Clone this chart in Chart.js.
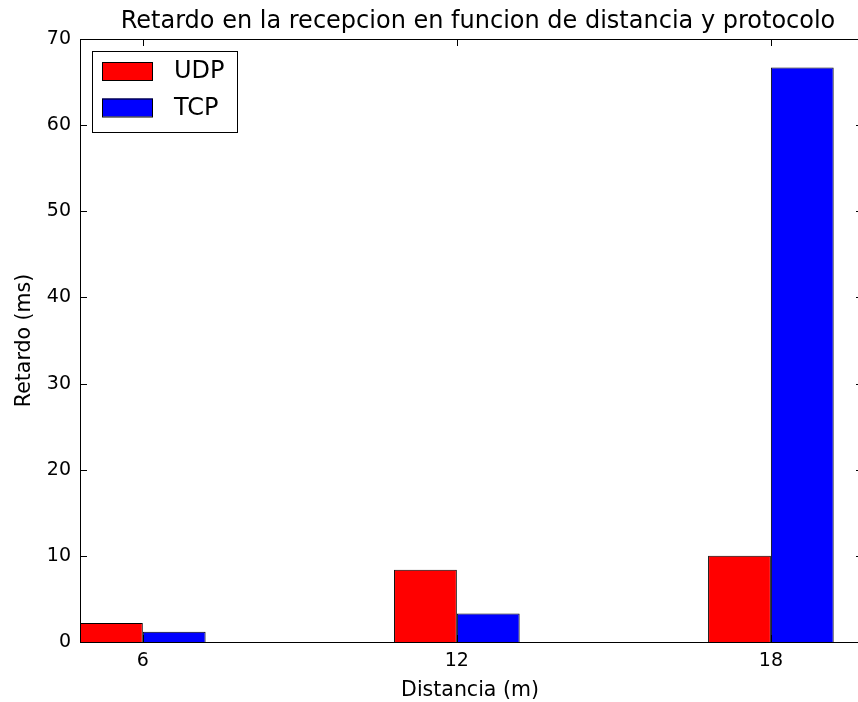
<!DOCTYPE html>
<html>
<head>
<meta charset="utf-8">
<style>
html,body{margin:0;padding:0;background:#fff;overflow:hidden;}
#wrap{width:858px;height:702px;overflow:hidden;position:relative;}
canvas{display:block;}
</style>
<script src="https://cdn.jsdelivr.net/npm/chart.js@4"></script>
</head>
<body>
<div id="wrap"><canvas id="c" width="868" height="702" style="width:868px;height:702px"></canvas></div>
<script>
const distances = [6, 12, 18];
const udpValues = [2.2, 8.4, 10.0];
const tcpValues = [1.2, 3.3, 66.7];
const yTicks = [0, 10, 20, 30, 40, 50, 60, 70];
const titleText = 'Retardo en la recepcion en funcion de distancia y protocolo';
const xLabel = 'Distancia (m)';
const yLabel = 'Retardo (ms)';
const seriesNames = ['UDP', 'TCP'];
const seriesColors = ['#ff0000', '#0000ff'];

const FONT = 'DejaVu Sans';

const decor = {
  id: 'decor',
  afterDatasetsDraw(chart) {
    const {ctx, chartArea: a, scales} = chart;
    ctx.save();
    ctx.strokeStyle = '#000';
    ctx.lineWidth = 1;
    ctx.strokeRect(Math.round(a.left) + 0.5, Math.round(a.top) + 0.5, Math.round(a.right - a.left), Math.round(a.bottom - a.top));
    const TL = 7;
    ctx.beginPath();
    scales.y.ticks.forEach(t => {
      const py = Math.round(scales.y.getPixelForValue(t.value)) + 0.5;
      ctx.moveTo(a.left, py); ctx.lineTo(a.left + TL, py);
      ctx.moveTo(a.right, py); ctx.lineTo(a.right - TL, py);
    });
    scales.x.ticks.forEach(t => {
      const px = Math.round(scales.x.getPixelForValue(t.value)) + 0.5;
      ctx.moveTo(px, a.bottom); ctx.lineTo(px, a.bottom - TL);
      ctx.moveTo(px, a.top); ctx.lineTo(px, a.top + TL);
    });
    ctx.stroke();

    // legend
    const lx = 92, ly = 51, lw = 145, lh = 81;
    ctx.fillStyle = '#fff';
    ctx.fillRect(lx, ly, lw, lh);
    ctx.strokeRect(lx + 0.5, ly + 0.5, lw, lh);
    ctx.font = '24px "' + FONT + '"';
    ctx.textBaseline = 'middle';
    ctx.textAlign = 'left';
    seriesNames.forEach((n, i) => {
      const sy = 62 + i * 36.5;
      ctx.fillStyle = seriesColors[i];
      ctx.fillRect(102, sy, 51, 18);
      ctx.strokeRect(102.5, sy + 0.5, 50, 18);
      ctx.fillStyle = '#000';
      ctx.fillText(n, 174, sy + 10);
    });

    // title
    ctx.fillStyle = '#000';
    ctx.textAlign = 'center';
    ctx.textBaseline = 'alphabetic';
    ctx.font = '24px "' + FONT + '"';
    ctx.fillText(titleText, 478, 28);
    // axis labels
    ctx.font = '20.5px "' + FONT + '"';
    ctx.fillText(xLabel, 470, 696);
    ctx.save();
    ctx.translate(30, (a.top + a.bottom) / 2);
    ctx.rotate(-Math.PI / 2);
    ctx.fillText(yLabel, 0, 0);
    ctx.restore();
    ctx.restore();
  }
};

new Chart(document.getElementById('c'), {
  type: 'bar',
  data: {
    datasets: [
      { label: seriesNames[0], data: distances.map((d, i) => ({x: d, y: udpValues[i]})),
        backgroundColor: seriesColors[0], borderColor: '#000', borderWidth: 1,
        categoryPercentage: 0.4, barPercentage: 1.0 },
      { label: seriesNames[1], data: distances.map((d, i) => ({x: d, y: tcpValues[i]})),
        backgroundColor: seriesColors[1], borderColor: '#000', borderWidth: 1,
        categoryPercentage: 0.4, barPercentage: 1.0 }
    ]
  },
  options: {
    responsive: false,
    animation: false,
    devicePixelRatio: 1,
    layout: { padding: { top: 39, right: 5, left: 0, bottom: 0 } },
    plugins: { legend: { display: false }, title: { display: false }, tooltip: { enabled: false } },
    scales: {
      x: {
        type: 'linear', min: 4.8, max: 19.76, offset: false,
        afterBuildTicks(s) { s.ticks = distances.map(v => ({value: v})); },
        afterFit(s) { s.height = 60; },
        grid: { display: false, drawTicks: false },
        border: { display: false },
        ticks: { color: '#000', font: { family: FONT, size: 19 }, padding: 8,
                 callback: v => String(v) }
      },
      y: {
        min: 0, max: 70,
        afterBuildTicks(s) { s.ticks = yTicks.map(v => ({value: v})); },
        afterFit(s) { s.width = 80; },
        grid: { display: false, drawTicks: false },
        border: { display: false },
        ticks: { color: '#000', font: { family: FONT, size: 19 }, padding: 9,
                 callback: v => String(v) }
      }
    }
  },
  plugins: [decor]
});
</script>
</body>
</html>
